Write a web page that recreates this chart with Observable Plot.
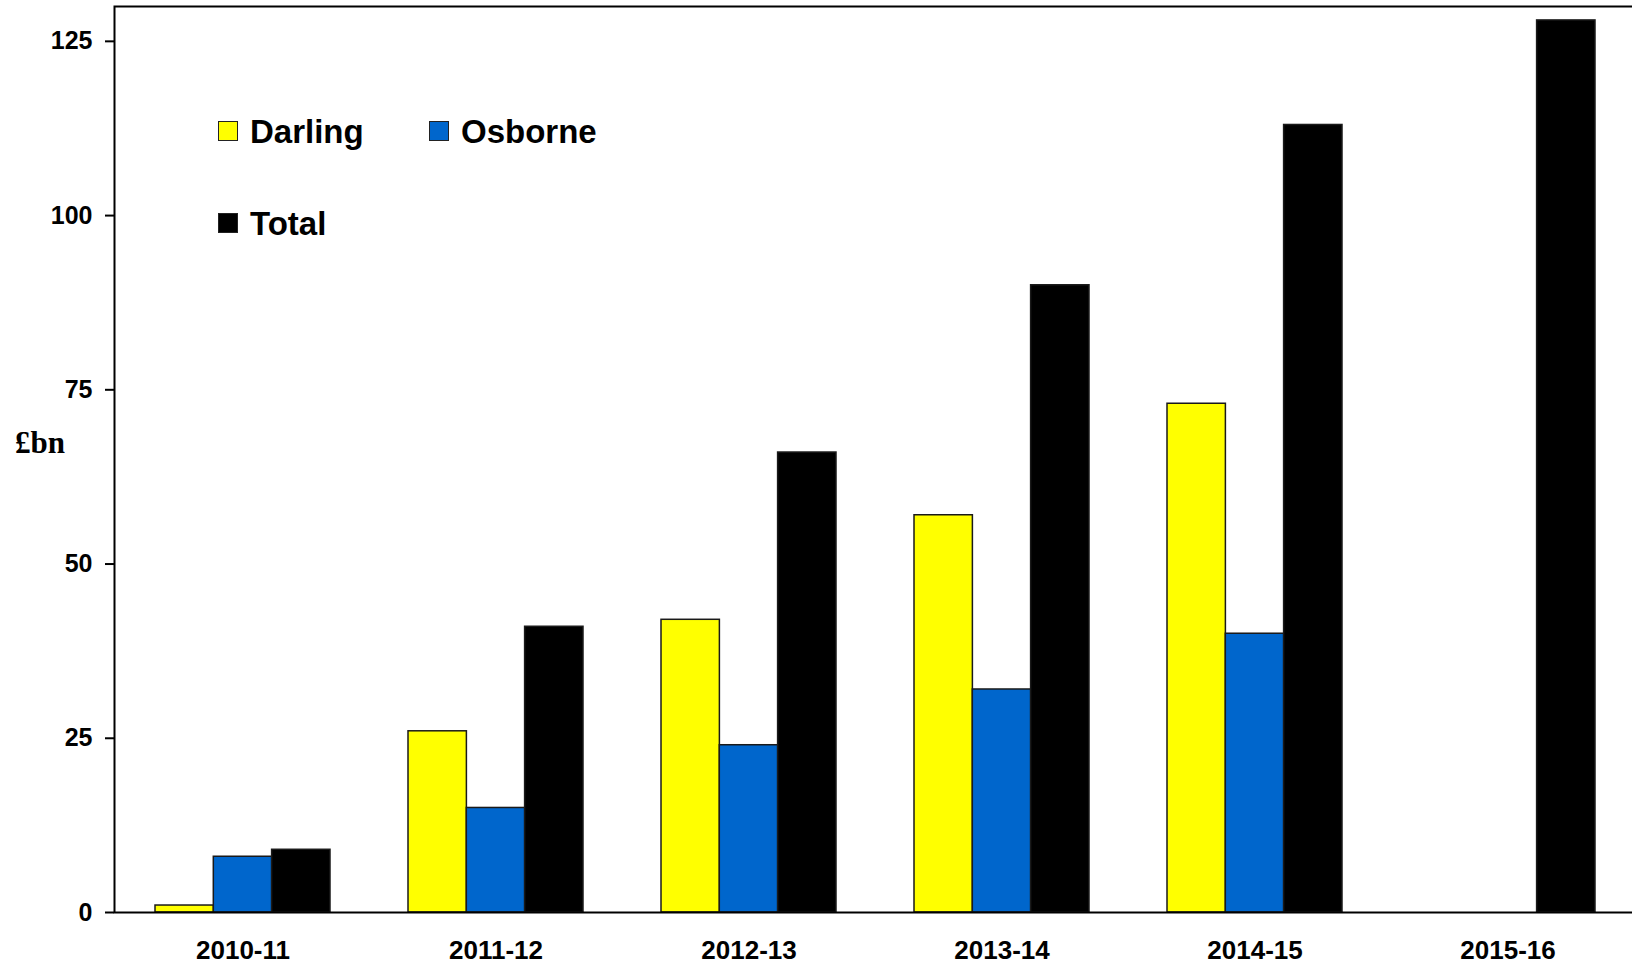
<!DOCTYPE html>
<html>
<head>
<meta charset="utf-8">
<script src="https://cdn.jsdelivr.net/npm/d3@7"></script>
<script src="https://cdn.jsdelivr.net/npm/@observablehq/plot@0.6"></script>
<style>
  html, body { margin: 0; padding: 0; background: #fff; overflow: hidden; }
  #wrap { position: relative; width: 1632px; height: 965px; }
  #wrap svg { display: block; }
  .legend-item { position: absolute; font-family: "Liberation Sans", Arial, sans-serif; font-weight: bold; font-size: 33px; line-height: 33px; color: #000; white-space: nowrap; }
  .swatch { position: absolute; width: 18px; height: 18px; border: 1.5px solid #222; }
  #unit { position: absolute; left: 15px; top: 427px; font-family: "Liberation Serif", "Times New Roman", serif; font-weight: bold; font-size: 31px; line-height: 31px; color: #000; }
</style>
</head>
<body>
<div id="wrap"></div>
<script>
// Fiscal years and the cumulative consolidation (£bn) under each plan
const years = ["2010-11", "2011-12", "2012-13", "2013-14", "2014-15", "2015-16"];
const darling = [1, 26, 42, 57, 73, null];
const osborne = [8, 15, 24, 32, 40, null];
const total = [9, 41, 66, 90, 113, 128];
const yTicks = [0, 25, 50, 75, 100, 125];

const seriesNames = ["Darling", "Osborne", "Total"];
const seriesColors = ["#ffff00", "#0066cc", "#000000"];

const rows = (vals) => years.map((year, i) => ({year, value: vals[i]}));

// Layout
const W = 1632, H = 965;
const mL = 114, mR = -3, mT = 6, mB = 53;
const padIn = 0.31, padOut = padIn / 2;
const step = (W - mL - mR) / (years.length - padIn + 2 * padOut);
const bw = step * (1 - padIn);
const sub = bw / 3;

const barStyle = {stroke: "#1a1a1a", strokeWidth: 1.5};

const chart = Plot.plot({
  width: W,
  height: H,
  marginLeft: mL,
  marginRight: mR,
  marginTop: mT,
  marginBottom: mB,
  style: {
    fontFamily: "'Liberation Sans', Arial, sans-serif",
    fontSize: "25px",
    fontWeight: "bold",
    color: "#000",
    background: "#fff"
  },
  x: {domain: years, paddingInner: padIn, paddingOuter: padOut},
  y: {domain: [0, 130]},
  marks: [
    Plot.barY(rows(darling), {x: "year", y: "value", fill: seriesColors[0], insetRight: 2 * sub, ...barStyle}),
    Plot.barY(rows(osborne), {x: "year", y: "value", fill: seriesColors[1], insetLeft: sub, insetRight: sub, ...barStyle}),
    Plot.barY(rows(total), {x: "year", y: "value", fill: seriesColors[2], insetLeft: 2 * sub, ...barStyle}),
    Plot.frame({stroke: "#000", strokeWidth: 2}),
    Plot.axisY({ticks: yTicks, tickSize: 9, tickPadding: 13, strokeWidth: 2, label: null}),
    Plot.axisX({tickSize: 0, tickPadding: 28.5, fontSize: 26, label: null})
  ]
});

const wrap = document.getElementById("wrap");
wrap.appendChild(chart);

// Unit label
const unit = document.createElement("div");
unit.id = "unit";
unit.textContent = "£bn";
wrap.appendChild(unit);

// Legend inside the plot area
const legendSlots = [
  {left: 218, top: 121},
  {left: 429, top: 121},
  {left: 218, top: 213}
];
seriesNames.forEach((name, i) => {
  const slot = legendSlots[i];
  const sw = document.createElement("div");
  sw.className = "swatch";
  sw.style.left = slot.left + "px";
  sw.style.top = slot.top + "px";
  sw.style.background = seriesColors[i];
  wrap.appendChild(sw);
  const label = document.createElement("div");
  label.className = "legend-item";
  label.textContent = name;
  label.style.left = (slot.left + 32) + "px";
  label.style.top = (slot.top - 6) + "px";
  wrap.appendChild(label);
});
</script>
</body>
</html>
